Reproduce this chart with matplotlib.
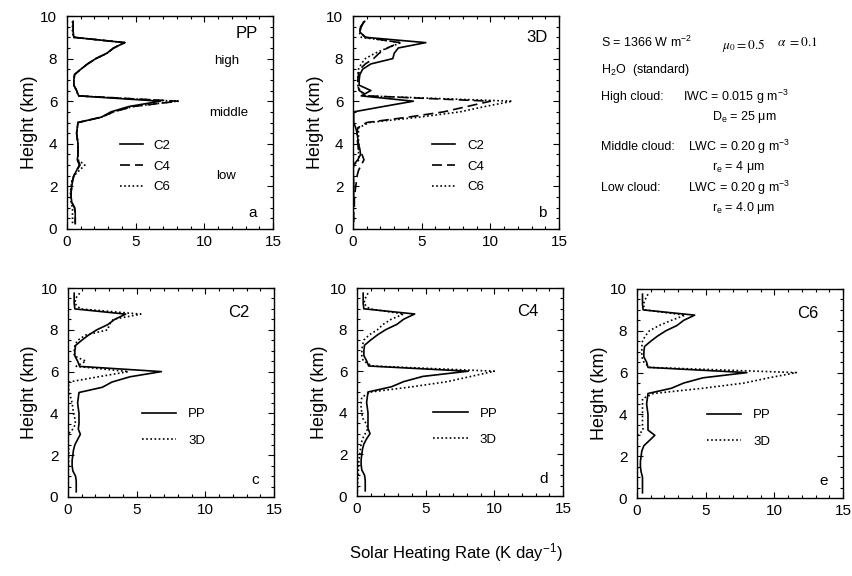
import matplotlib
matplotlib.use("Agg")
import matplotlib.pyplot as plt
from matplotlib.ticker import MultipleLocator

plt.rcParams['font.family'] = ['Liberation Sans', 'DejaVu Sans']
plt.rcParams['mathtext.fontset'] = 'custom'
plt.rcParams['mathtext.rm'] = 'Liberation Sans'
plt.rcParams['mathtext.it'] = 'Liberation Sans:italic'

heights = [9.75, 9.5, 9.25, 9.0, 8.75, 8.5, 8.25, 8.0, 7.75, 7.5, 7.25, 7.0, 6.75,
           6.5, 6.25, 6.0, 5.75, 5.5, 5.25, 5.0, 4.75, 4.5, 4.25, 4.0, 3.75, 3.5,
           3.25, 3.0, 2.75, 2.5, 2.25, 2.0, 1.75, 1.5, 1.25, 1.0, 0.75, 0.5, 0.25]

pp_c2 = [0.45, 0.45, 0.45, 0.5, 4.2, 3.4, 2.9, 2.1, 1.5, 1.0, 0.55, 0.5, 0.5,
         0.7, 0.85, 6.8, 4.5, 3.2, 2.5, 0.8, 0.75, 0.7, 0.75, 0.8, 0.8, 0.8,
         0.75, 0.9, 0.7, 0.5, 0.4, 0.35, 0.3, 0.3, 0.35, 0.55, 0.6, 0.6, 0.6]
pp_c4 = [0.45, 0.45, 0.45, 0.5, 4.2, 3.4, 2.9, 2.1, 1.5, 1.0, 0.55, 0.5, 0.5,
         0.7, 0.85, 8.1, 4.8, 3.4, 2.5, 0.8, 0.75, 0.7, 0.75, 0.8, 0.8, 0.8,
         0.8, 0.95, 0.7, 0.5, 0.4, 0.35, 0.3, 0.3, 0.35, 0.55, 0.6, 0.6, 0.6]
pp_c6 = [0.4, 0.4, 0.4, 0.45, 4.2, 3.4, 2.9, 2.1, 1.5, 1.0, 0.55, 0.5, 0.5,
         0.7, 0.8, 8.0, 4.8, 3.4, 2.5, 0.8, 0.75, 0.7, 0.75, 0.8, 0.8, 0.8,
         0.8, 1.3, 0.9, 0.5, 0.35, 0.3, 0.25, 0.25, 0.3, 0.4, 0.4, 0.4, 0.4]

d3_c2 = [0.85, 0.55, 0.5, 0.9, 5.3, 3.3, 3.0, 2.9, 1.3, 0.7, 0.5, 0.45, 0.45,
         1.3, 0.6, 4.4, 2.2, 0.05, 0.05, 0.05, 0.2, 0.3, 0.35, 0.4, 0.5, 0.55,
         0.35, 0.02, 0.02, 0.02, 0.05, 0.05, 0.05, 0.05, 0.02, 0.02, 0.02, 0.02, 0.02]
d3_c4 = [0.8, 0.6, 0.5, 0.9, 3.4, 2.5, 1.9, 1.5, 0.9, 0.5, 0.4, 0.35, 0.35,
         0.45, 1.1, 10.0, 8.3, 6.6, 4.0, 1.0, 0.35, 0.3, 0.3, 0.35, 0.4, 0.65,
         0.8, 0.6, 0.4, 0.3, 0.25, 0.2, 0.15, 0.1, 0.1, 0.1, 0.05, 0.05, 0.05]
d3_c6 = [0.8, 0.6, 0.45, 0.6, 3.5, 2.5, 1.6, 0.9, 0.6, 0.4, 0.35, 0.35, 0.35,
         0.5, 0.9, 11.6, 9.6, 7.8, 4.8, 1.2, 0.4, 0.4, 0.4, 0.4, 0.4, 0.4,
         0.45, 0.05, 0.02, 0.02, 0.02, 0.02, 0.02, 0.02, 0.02, 0.02, 0.02, 0.02, 0.02]

cases = ['C2', 'C4', 'C6']
methods = ['PP', '3D']

fig = plt.figure(figsize=(8.52, 5.76), dpi=100)
W, H = 852, 576

def make_ax(x0, x1, ytop, ybot):
    ax = fig.add_axes([x0 / W, 1 - ybot / H, (x1 - x0) / W, (ybot - ytop) / H])
    ax.set_xlim(0, 15)
    ax.set_ylim(0, 10)
    ax.xaxis.set_major_locator(MultipleLocator(5))
    ax.xaxis.set_minor_locator(MultipleLocator(1))
    ax.yaxis.set_major_locator(MultipleLocator(2))
    ax.yaxis.set_minor_locator(MultipleLocator(0.5))
    ax.tick_params(which='both', direction='in', top=True, right=True, width=0.8)
    ax.tick_params(which='major', length=4)
    ax.tick_params(which='minor', length=2.5)
    ax.tick_params(axis='x', labelsize=11, pad=4)
    ax.tick_params(axis='y', labelsize=11, pad=7)
    ax.set_ylabel('Height (km)', fontsize=13, labelpad=2)
    for s in ax.spines.values():
        s.set_linewidth(1.0)
    return ax

lw = 1.2
styles = {'C2': dict(ls='-', lw=lw), 'C4': dict(ls=(0, (6, 3)), lw=lw), 'C6': dict(ls=(0, (1, 1.5)), lw=lw)}

# panel a
axa = make_ax(67, 273, 16, 229)
for name, vals in zip(cases, [pp_c2, pp_c4, pp_c6]):
    axa.plot(vals, heights, color='black', label=name, **styles[name])
axa.legend(loc='upper left', bbox_to_anchor=(0.258, 0.42), frameon=False, fontsize=9.5,
           handlelength=1.75, handletextpad=0.75, labelspacing=0.65, borderpad=0, borderaxespad=0)
axa.text(13.9, 9.2, 'PP', fontsize=12, ha='right', va='center')
axa.text(13.8, 0.75, 'a', fontsize=11, ha='right', va='center')
axa.text(11.6, 7.9, 'high', fontsize=9.5, ha='center', va='center')
axa.text(11.8, 5.45, 'middle', fontsize=9.5, ha='center', va='center')
axa.text(11.6, 2.5, 'low', fontsize=9.5, ha='center', va='center')

# panel b
axb = make_ax(353, 559, 16, 229)
for name, vals in zip(cases, [d3_c2, d3_c4, d3_c6]):
    axb.plot(vals, heights, color='black', label=name, **styles[name])
axb.legend(loc='upper left', bbox_to_anchor=(0.385, 0.42), frameon=False, fontsize=9.5,
           handlelength=1.75, handletextpad=0.9, labelspacing=0.65, borderpad=0, borderaxespad=0)
axb.text(14.2, 9.0, '3D', fontsize=12, ha='right', va='center')
axb.text(14.1, 0.75, 'b', fontsize=11, ha='right', va='center')

# bottom panels
bottom = [((68, 274, 288, 497), pp_c2, d3_c2, 'C2', 'c', 0.36),
          ((357, 563, 288, 496), pp_c4, d3_c4, 'C4', 'd', 0.37),
          ((637, 843, 289, 498), pp_c6, d3_c6, 'C6', 'e', 0.34)]
for (x0, x1, yt, yb), pp, d3, cname, letter, lx in bottom:
    ax = make_ax(x0, x1, yt, yb)
    ax.plot(pp, heights, color='black', ls='-', lw=lw, label=methods[0])
    ax.plot(d3, heights, color='black', ls=(0, (1, 1.5)), lw=lw, label=methods[1])
    ax.legend(loc='upper left', bbox_to_anchor=(lx, 0.425), frameon=False, fontsize=9.5,
              handlelength=2.6, handletextpad=0.9, labelspacing=1.05, borderpad=0, borderaxespad=0)
    ax.text(13.2, 8.85, cname, fontsize=12, ha='right', va='center')
    ax.text(13.9, 0.8, letter, fontsize=11, ha='right', va='center')

# right info block
def ftxt(x, y, s, fs=9, **kw):
    fig.text(x / W, 1 - y / H, s, fontsize=fs, va='center', ha='left', **kw)

ftxt(601, 42, r'S = 1366 W m$^{-2}$')
ftxt(722, 45, r'$\mu_0 = 0.5$', fs=9.5, math_fontfamily='stix')
ftxt(777, 43, r'$\alpha\ = 0.1$', fs=9.5, math_fontfamily='stix')
ftxt(601, 70, r'H$_2$O  (standard)')
ftxt(601, 97, 'High cloud:')
ftxt(683, 97, r'IWC = 0.015 g m$^{-3}$')
ftxt(712, 117, r'D$_\mathrm{e}$ = 25 $\mathrm{\mu}$m')
ftxt(601, 147, 'Middle cloud:')
ftxt(688, 147, r'LWC = 0.20 g m$^{-3}$')
ftxt(712, 167, r'r$_\mathrm{e}$ = 4 $\mathrm{\mu}$m')
ftxt(601, 188, 'Low cloud:')
ftxt(688, 188, r'LWC = 0.20 g m$^{-3}$')
ftxt(712, 208, r'r$_\mathrm{e}$ = 4.0 $\mathrm{\mu}$m')

fig.text(456 / W, 1 - 553 / H, r'Solar Heating Rate (K day$^{-1}$)', fontsize=12, ha='center', va='center')

fig.savefig('out.png', dpi=100)
